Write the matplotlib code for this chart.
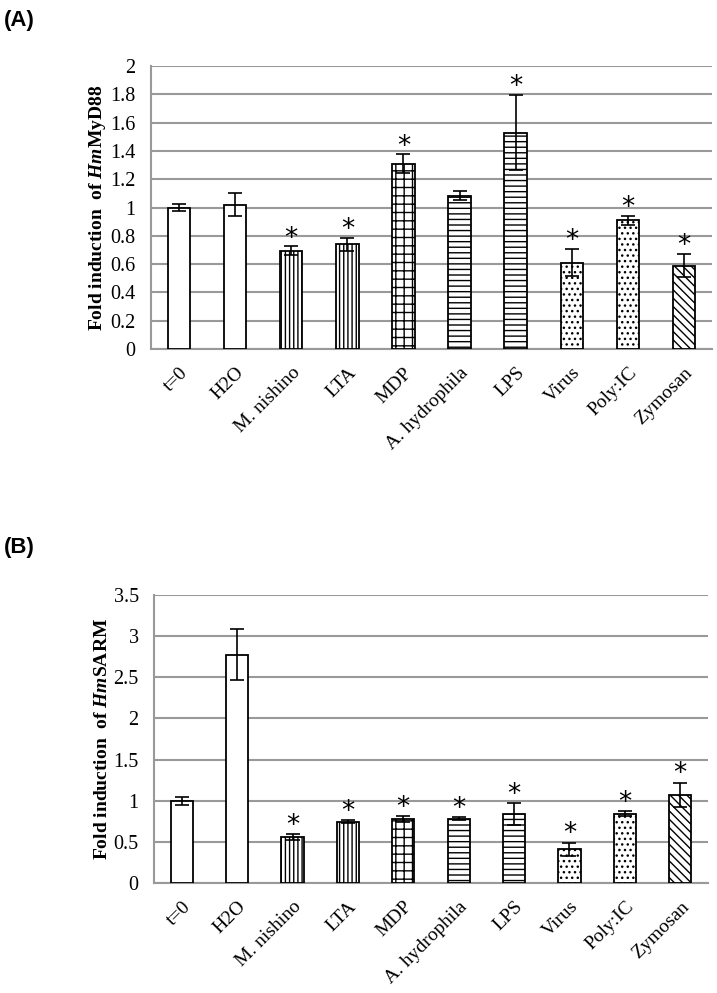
import numpy as np
import matplotlib
matplotlib.use("Agg")
import matplotlib.pyplot as plt

plt.rcParams['font.family'] = 'Liberation Serif'
plt.rcParams['mathtext.fontset'] = 'custom'
plt.rcParams['mathtext.rm'] = 'Liberation Serif'
plt.rcParams['mathtext.bf'] = 'Liberation Serif:bold'
plt.rcParams['mathtext.it'] = 'Liberation Serif:italic'
plt.rcParams['mathtext.bfit'] = 'Liberation Serif:bold:italic'
plt.rcParams['hatch.linewidth'] = 1.0

categories = ['t=0', 'H2O', 'M. nishino', 'LTA', 'MDP', 'A. hydrophila',
              'LPS', 'Virus', 'Poly:IC', 'Zymosan']
hatches = ['', '', '||||', '||||', '++', '---', '---', '...', '...', '\\\\\\\\']

myd88 = [1.00, 1.02, 0.695, 0.74, 1.31, 1.085, 1.53, 0.61, 0.91, 0.59]
myd88_err = [0.025, 0.08, 0.03, 0.045, 0.065, 0.03, 0.265, 0.095, 0.03, 0.08]
myd88_sig = [False, False, True, True, True, False, True, True, True, True]

sarm = [1.00, 2.775, 0.56, 0.745, 0.78, 0.78, 0.84, 0.41, 0.84, 1.07]
sarm_err = [0.05, 0.31, 0.035, 0.02, 0.035, 0.02, 0.13, 0.08, 0.03, 0.15]
sarm_sig = [False, False, True, True, True, True, True, True, True, True]

fig = plt.figure(figsize=(7.17, 9.93), dpi=100)
ax1 = fig.add_axes([0.2106, 0.6485, 0.7824, 0.285])
ax2 = fig.add_axes([0.2148, 0.1108, 0.7726, 0.29])


def draw(ax, vals, errs, sig, ymax, step, ylab, star_off):
    x = np.arange(len(categories))
    ax.bar(x, vals, width=0.4, color='white', edgecolor='black',
           linewidth=1.3, hatch=hatches, zorder=3)
    ax.errorbar(x, vals, yerr=errs, fmt='none', ecolor='black',
                elinewidth=1.2, capsize=5, capthick=1.2, zorder=4)
    for xi, v, e, s in zip(x, vals, errs, sig):
        if s:
            ax.text(xi, v + e + star_off, '*', ha='center', va='center',
                    fontsize=19, family='DejaVu Sans', zorder=5)
    ax.set_xlim(-0.5, len(categories) - 0.5)
    ax.set_ylim(0, ymax)
    ticks = np.arange(0, ymax + step / 2, step)
    ax.set_yticks(ticks)
    ax.set_yticklabels(['%g' % round(t, 1) for t in ticks], fontsize=14.5)
    ax.yaxis.grid(True, color='#999999', linewidth=1.5, zorder=0)
    ax.set_axisbelow(True)
    for sp in ['top', 'right']:
        ax.spines[sp].set_visible(False)
    for sp in ['left', 'bottom']:
        ax.spines[sp].set_color('#999999')
        ax.spines[sp].set_linewidth(1.5)
    ax.tick_params(axis='y', length=0, pad=11)
    ax.tick_params(axis='x', length=0, pad=11)
    ax.set_xticks(x)
    ax.set_xticklabels(categories, rotation=45, ha='right',
                       rotation_mode='anchor', fontsize=14)
    ax.set_ylabel(ylab, fontsize=14, fontweight='bold', labelpad=2)


draw(ax1, myd88, myd88_err, myd88_sig, 2, 0.2,
     r'Fold induction  of $\mathbfit{Hm}$$\mathbf{MyD88}$', 0.055)
draw(ax2, sarm, sarm_err, sarm_sig, 3.5, 0.5,
     r'Fold induction  of $\mathbfit{Hm}$$\mathbf{SARM}$', 0.1)

fig.text(0.006, 0.979, '(A)', fontsize=16, fontweight='bold',
         family='Liberation Sans', va='center')
fig.text(0.006, 0.449, '(B)', fontsize=16, fontweight='bold',
         family='Liberation Sans', va='center')

fig.savefig('out.png', dpi=100)
